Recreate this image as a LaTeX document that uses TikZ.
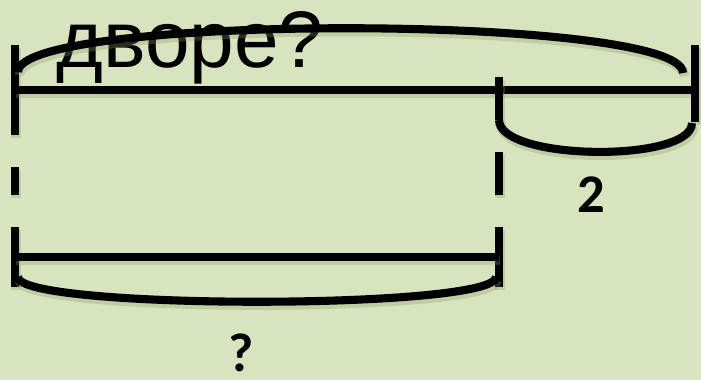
\documentclass[tikz,border=0pt]{standalone}
\usepackage{fontspec}
\usepackage{tikz}
\usetikzlibrary{positioning,calc}
\usepackage{xcolor}
\newfontfamily\cyrfont{Liberation Sans}
\newfontfamily\numfont{Carlito}
\definecolor{bggreen}{HTML}{D7E4BD}
\definecolor{shadegreen}{HTML}{8A9A6A}
\tikzset{
  line cap=butt,
}

\begin{document}
\begin{tikzpicture}[
  x=0.01cm, y=-0.01cm,
  seg/.style={line width=2.3pt, draw=black,
    preaction={draw=shadegreen, line width=2.8pt, opacity=0.3,
      transform canvas={xshift=0.4pt, yshift=-0.9pt}}},
  lbl/.style={inner sep=0, font=\numfont\bfseries\fontsize{15.5}{15.5}\selectfont}
]
  \fill[bggreen] (0,0) rectangle (701,380);
  \useasboundingbox (0,0) rectangle (701,380);
  % end points of the segments
  \coordinate (ltop) at (15,45);
  \coordinate (lmid) at (15,90);
  \coordinate (lend) at (15,135);
  \coordinate (mtop) at (499,77);
  \coordinate (mmid) at (499,90);
  \coordinate (mend) at (499,120);
  \coordinate (rtop) at (695,45);
  \coordinate (rmid) at (695,90);
  \coordinate (rend) at (695,122);
  \coordinate (blt) at (15,227);
  \coordinate (blm) at (15,257);
  \coordinate (blb) at (15,287);
  \coordinate (bmt) at (499,227);
  \coordinate (bmm) at (499,257);
  \coordinate (bmb) at (499,287);
  % question text
  \node[inner sep=0, anchor=base west, font=\cyrfont\fontsize{22.8}{22.8}\selectfont] (ask) at (56,68) {дворе?};
  % upper segment
  \draw[seg] (ltop) -- (lend);
  \draw[seg] (lmid) -- (rmid);
  \draw[seg] (mtop) -- (mend);
  \draw[seg] (rtop) -- (rend);
  \draw[seg] (18,72) .. controls (18,13) and (683,14) .. (683,73);
  \draw[seg] (mend) .. controls (499,161) and (692,163) .. (692,123);
  \node[lbl] (two) at (591,195) {2};
  % dashed guides
  \draw[seg] (15,167) -- (15,195);
  \draw[seg] (499,152) -- (499,195);
  % lower segment
  \draw[seg] (blt) -- (blb);
  \draw[seg] (bmt) -- (bmb);
  \draw[seg] (blm) -- (bmm);
  \draw[seg] (18,277) .. controls (18,310) and (496,310) .. (496,277);
  \node[lbl] (what) at (241,353) {?};
\end{tikzpicture}
\end{document}
